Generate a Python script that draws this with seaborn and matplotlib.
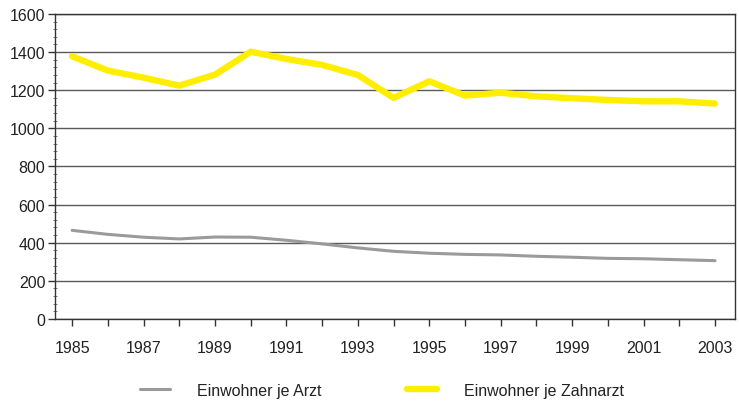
import matplotlib
matplotlib.use("Agg")
import matplotlib.pyplot as plt
import seaborn as sns
import pandas as pd
from matplotlib.ticker import MultipleLocator
from matplotlib.lines import Line2D

years = list(range(1985, 2004))
arzt = [465, 444, 429, 420, 430, 429, 413, 394, 373, 355, 345, 339, 336, 329, 324, 318, 316, 311, 306]
zahnarzt = [1378, 1303, 1266, 1224, 1282, 1402, 1364, 1333, 1280, 1160, 1247, 1172, 1187, 1168, 1158, 1149, 1142, 1142, 1130]
series_names = ["Einwohner je Arzt", "Einwohner je Zahnarzt"]
xtick_labels = [str(y) for y in range(1985, 2004, 2)]

df = pd.DataFrame({
    "Jahr": years * 2,
    "Wert": arzt + zahnarzt,
    "Serie": [series_names[0]] * len(years) + [series_names[1]] * len(years),
})

sns.set_theme(style="white")
plt.rcParams['font.family'] = ['Liberation Sans', 'DejaVu Sans']

fig = plt.figure(figsize=(7.39, 4.02), dpi=100)
ax = fig.add_axes([0.0744, 0.204, 0.9202, 0.7587])

palette = {series_names[0]: "#9a9a9a", series_names[1]: "#ffee00"}
sns.lineplot(data=df, x="Jahr", y="Wert", hue="Serie", palette=palette,
             size="Serie", sizes={series_names[0]: 2.2, series_names[1]: 4.6},
             ax=ax, legend=False)

ax.set_xlim(1984.52, 2003.56)
ax.set_ylim(0, 1600)
ax.yaxis.set_major_locator(MultipleLocator(200))
ax.yaxis.set_minor_locator(MultipleLocator(40))
ax.set_xticks(list(range(1985, 2004, 2)))
ax.set_xticks(list(range(1986, 2003, 2)), minor=True)
ax.set_xticklabels(xtick_labels)
ax.set_xlabel("")
ax.set_ylabel("")
ax.grid(axis="y", which="major", color="#5a5a5a", linewidth=1.0)
ax.set_axisbelow(True)
for s in ax.spines.values():
    s.set_color("#333333")
    s.set_linewidth(1.0)
ax.tick_params(axis="y", which="major", direction="out", length=5, width=1, color="#333333", labelsize=11.5, pad=2, left=True)
ax.tick_params(axis="y", which="minor", direction="inout", length=3, width=0.6, color="#666666", left=True)
ax.tick_params(axis="x", which="both", direction="out", length=5, width=1, color="#333333", labelsize=11.5, pad=10, bottom=True)
for lbl in ax.get_xticklabels() + ax.get_yticklabels():
    lbl.set_color("#222222")

handles = [Line2D([], [], color=palette[series_names[0]], linewidth=2.2),
           Line2D([], [], color=palette[series_names[1]], linewidth=4.6)]
fig.legend(handles, series_names, loc="center", bbox_to_anchor=(0.517, 0.027),
           ncol=2, frameon=False, fontsize=11.5, handlelength=1.9, handletextpad=1.7,
           columnspacing=5.3, labelcolor="#222222")

fig.savefig("out.png", dpi=100)
